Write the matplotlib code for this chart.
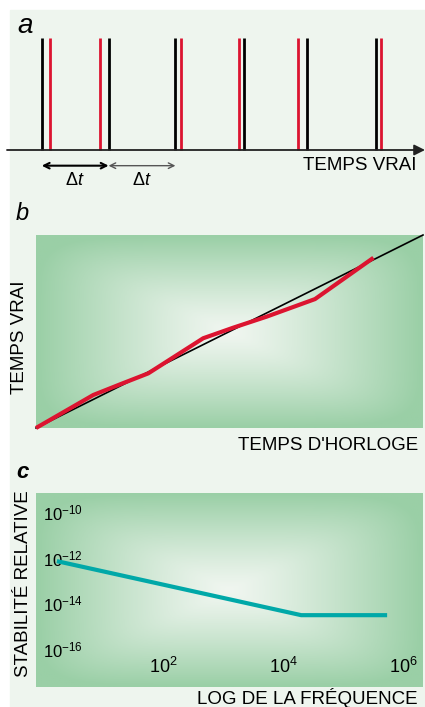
# horloges : tops vrais / tops d'horloge, dérive, stabilité relative
import numpy as np
import matplotlib.pyplot as plt
from matplotlib.patches import Rectangle
from matplotlib.colors import LinearSegmentedColormap

plt.rcParams['font.family'] = ['Liberation Sans', 'DejaVu Sans']
plt.rcParams['mathtext.fontset'] = 'custom'
plt.rcParams['mathtext.rm'] = 'Liberation Sans'
plt.rcParams['mathtext.it'] = 'Liberation Sans:italic'

# a : tops du temps vrai (noir) et de l'horloge (rouge), en unités de Δt
tops_vrais = [0.52, 1.52, 2.52, 3.54, 4.49, 5.52]
tops_horloge = [0.65, 1.39, 2.60, 3.47, 4.36, 5.60]

# b : temps vrai en fonction du temps d'horloge
ideal = [0.0, 1.0]
temps_horloge = [0.0, 0.148, 0.217, 0.290, 0.432, 0.510, 0.596, 0.721, 0.872]
temps_vrai = [0.0, 0.171, 0.226, 0.283, 0.465, 0.520, 0.577, 0.668, 0.882]

# c : stabilité relative en fonction de la fréquence
freq = [1.7, 2.0e4, 5.4e5]
stabilite = [7e-13, 3e-15, 3e-15]
yticks_c = [1e-10, 1e-12, 1e-14, 1e-16]
xticks_c = [1e2, 1e4, 1e6]

ROUGE = '#dc1430'
TURQUOISE = '#00a8a8'
FOND = '#eef5ee'
W, H = 425, 707
PT = 100 / 72


def box(x0, y0, x1, y1):
    return [x0 / W, 1 - y1 / H, (x1 - x0) / W, (y1 - y0) / H]


def degrade(pos):
    bg = fig.add_axes(pos, zorder=0)
    u = np.linspace(-1, 1, 200)
    v = np.linspace(-1, 1, 100)
    U, V = np.meshgrid(u, v)
    d = (np.abs(U) ** 6 + np.abs(V) ** 6) ** (1 / 6)
    d = np.clip(d, 0, 1) ** 1.2
    cmap = LinearSegmentedColormap.from_list('vert', ['#f0f6f0', '#9acfa6'])
    bg.imshow(d, cmap=cmap, extent=(0, 1, 0, 1), aspect='auto', vmin=0, vmax=1)
    bg.axis('off')
    return bg


fig = plt.figure(figsize=(W / 100, H / 100), dpi=100)
fig.add_artist(Rectangle((10 / W, 0), 1 - 10 / W, 1 - 10 / H,
                         transform=fig.transFigure, color=FOND, zorder=-10))

# ---- a
ax_a = fig.add_axes(box(0, 30, 425, 190))
ax_a.axis('off')
ax_a.set_xlim(-7 / 67, 419 / 67)
ax_a.set_ylim(-40 / 112, 1 + 8 / 112)
ax_a.vlines(tops_vrais, 0, 1, color='black', lw=2)
ax_a.vlines(tops_horloge, 0, 1, color=ROUGE, lw=2)
ax_a.annotate('', xy=(419 / 67, 0), xytext=(0, 0),
              arrowprops=dict(arrowstyle='-|>', lw=1.3, color='#222222',
                              mutation_scale=16, shrinkA=0, shrinkB=0))
ax_a.annotate('', xy=(tops_vrais[0], -0.14), xytext=(tops_vrais[1], -0.14),
              arrowprops=dict(arrowstyle='<->', lw=1.5, color='black',
                              shrinkA=0, shrinkB=0))
ax_a.annotate('', xy=(tops_vrais[1], -0.14), xytext=(tops_vrais[2], -0.14),
              arrowprops=dict(arrowstyle='<->', lw=1, color='#555555',
                              shrinkA=0, shrinkB=0))
for i in range(2):
    ax_a.text((tops_vrais[i] + tops_vrais[i + 1]) / 2, -0.27, r'$\Delta t$',
              ha='center', va='center', fontsize=13)
ax_a.text(6.13, -0.14, 'TEMPS VRAI', ha='right', va='center', fontsize=13.5)
fig.text(17 / W, 1 - 26 / H, 'a', style='italic', fontsize=20, va='center')

# ---- b
pos_b = box(36, 235, 423, 428)
degrade(pos_b)
ax_b = fig.add_axes(pos_b, zorder=1)
ax_b.set_facecolor('none')
ax_b.axis('off')
ax_b.set_xlim(0, 1)
ax_b.set_ylim(0, 1)
ax_b.plot(ideal, ideal, color='black', lw=1.2, clip_on=False)
ax_b.plot(temps_horloge, temps_vrai, color=ROUGE, lw=3, solid_capstyle='butt',
          solid_joinstyle='miter', clip_on=False)
fig.text(16 / W, 1 - 213 / H, 'b', style='italic', fontsize=17, va='center')
fig.text(20 / W, 1 - 337 / H, 'TEMPS VRAI', rotation=90, ha='center',
         va='center', fontsize=13.5)
fig.text(418 / W, 1 - 445 / H, "TEMPS D'HORLOGE", ha='right', va='center',
         fontsize=13.5)

# ---- c
pos_c = box(36, 493, 423, 687)
degrade(pos_c)
ax_c = fig.add_axes(pos_c, zorder=1)
ax_c.set_facecolor('none')
ax_c.set_xscale('log')
ax_c.set_yscale('log')
ax_c.set_xlim(10 ** -0.117, 10 ** 6.33)
ax_c.set_ylim(10 ** -17.67, 10 ** -9.17)
ax_c.plot(freq, stabilite, color=TURQUOISE, lw=3, solid_capstyle='butt')
for s in ax_c.spines.values():
    s.set_visible(False)
ax_c.set_xticks(xticks_c)
ax_c.set_yticks(yticks_c)
ax_c.minorticks_off()
ax_c.tick_params(axis='x', length=0, pad=-20 / PT, labelsize=13)
ax_c.tick_params(axis='y', length=0, pad=-7 / PT, labelsize=12)
for t in ax_c.get_xticklabels():
    t.set_va('center')
for t in ax_c.get_yticklabels():
    t.set_ha('left')
fig.text(16 / W, 1 - 473 / H, 'c', style='italic', weight='bold', fontsize=16,
         va='center')
fig.text(24 / W, 1 - 584 / H, 'STABILITÉ RELATIVE', rotation=90, ha='center',
         va='center', fontsize=13.5)
fig.text(418 / W, 1 - 698 / H, 'LOG DE LA FRÉQUENCE', ha='right', va='center',
         fontsize=13.5)

fig.savefig('out.png', dpi=100)
